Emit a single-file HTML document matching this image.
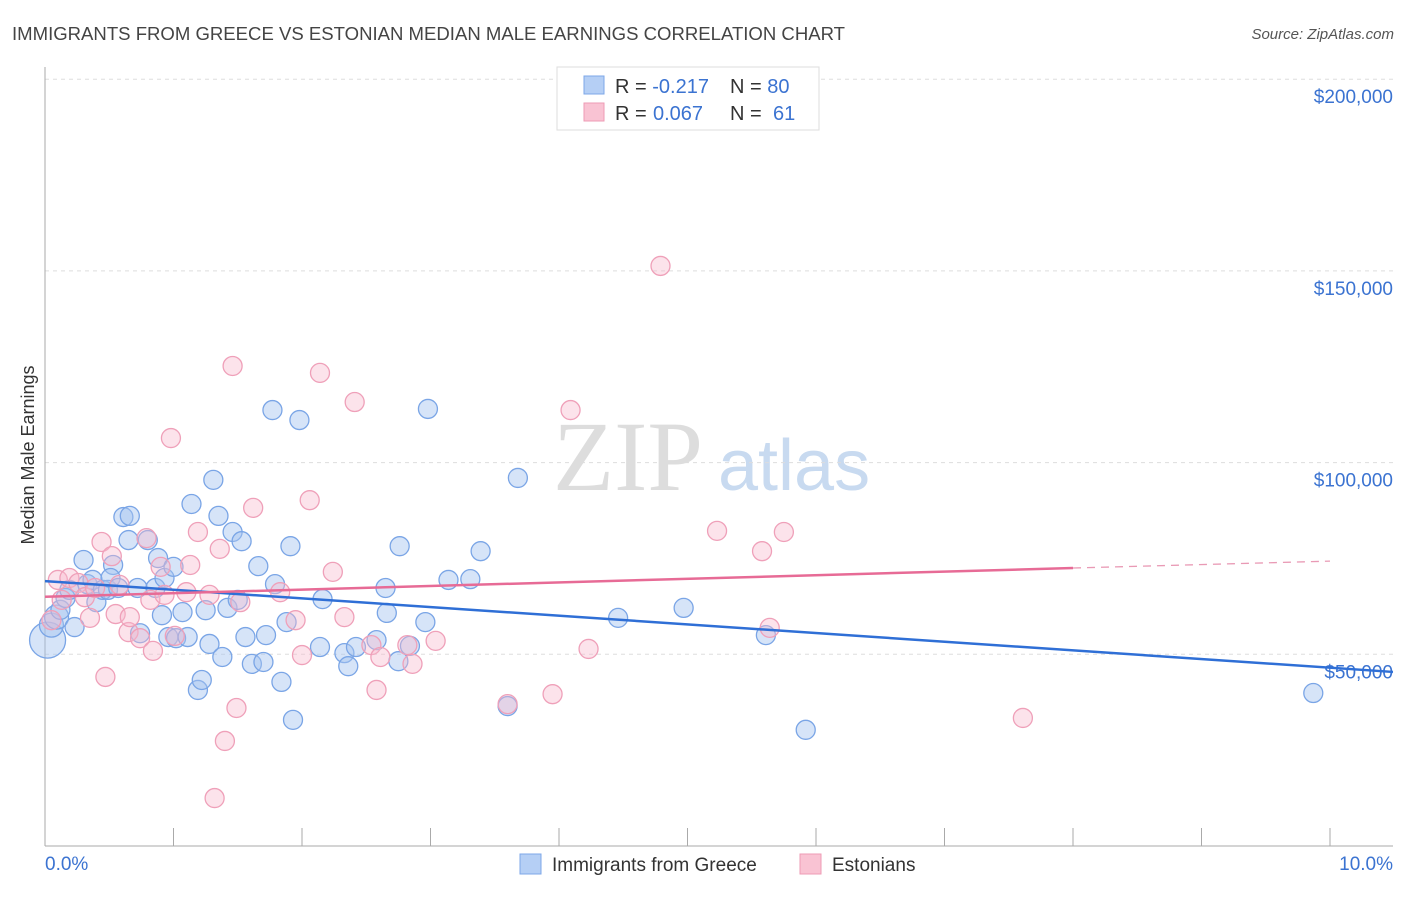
<!DOCTYPE html>
<html><head><meta charset="utf-8"><style>
body{margin:0;background:#fff;font-family:"Liberation Sans",sans-serif;}
svg text{font-family:"Liberation Sans",sans-serif;}
</style></head><body>
<svg id="chart" width="1406" height="892" viewBox="0 0 1406 892">
<text x="12" y="40" font-size="18" fill="#444" textLength="833" lengthAdjust="spacingAndGlyphs">IMMIGRANTS FROM GREECE VS ESTONIAN MEDIAN MALE EARNINGS CORRELATION CHART</text>
<text x="1394" y="39" font-size="15" fill="#555" text-anchor="end" font-style="italic">Source: ZipAtlas.com</text>
<g>
<text x="553" y="490" font-size="100" fill="#ddd" style="font-family:'Liberation Serif',serif">ZIP</text>
<text x="718" y="490" font-size="72" fill="#c8daf0">atlas</text>
</g>
<g id="grid"></g>
<g id="axes"></g>
<g id="pts"></g>
<g id="trend"></g>
<text transform="translate(34,455) rotate(-90)" font-size="18" fill="#333" text-anchor="middle">Median Male Earnings</text>
<g>
<rect x="557" y="67" width="262" height="63" fill="#fff" stroke="#ddd"/>
<rect x="584" y="76" width="20" height="18" fill="#b5cff5" stroke="#7da7e8"/>
<rect x="584" y="103" width="20" height="18" fill="#f9c3d3" stroke="#ee9bb5"/>
<text x="615" y="93" font-size="20" fill="#333">R = <tspan fill="#3b73d1">-0.217</tspan><tspan x="730">N = </tspan><tspan fill="#3b73d1">80</tspan></text>
<text x="615" y="120" font-size="20" fill="#333">R = <tspan fill="#3b73d1" x="653">0.067</tspan><tspan x="730">N = </tspan><tspan fill="#3b73d1" x="773">61</tspan></text>
</g>
<g>
<rect x="520" y="854" width="21" height="20" fill="#b5cff5" stroke="#7da7e8"/>
<text x="552" y="871" font-size="19" fill="#333">Immigrants from Greece</text>
<rect x="800" y="854" width="21" height="20" fill="#f9c3d3" stroke="#ee9bb5"/>
<text x="832" y="871" font-size="19" fill="#333">Estonians</text>
</g>
</svg>
<script>
const yTicks=[50000,100000,150000,200000];
const yTickLabels=["$50,000","$100,000","$150,000","$200,000"];
const xTicks=[0,1,2,3,4,5,6,7,8,9,10];
const xEndLabels=["0.0%","10.0%"];
const blueX=[0.02,0.05,0.09,0.12,0.16,0.19,0.23,0.30,0.33,0.37,0.40,0.45,0.49,0.53,0.51,0.57,0.61,0.65,0.66,0.74,0.72,0.80,0.86,0.88,0.91,0.93,0.96,1.00,1.02,1.07,1.11,1.14,1.19,1.22,1.25,1.28,1.31,1.35,1.38,1.42,1.46,1.50,1.53,1.56,1.61,1.66,1.70,1.72,1.77,1.79,1.84,1.88,1.91,1.93,1.98,2.14,2.16,2.33,2.36,2.42,2.58,2.65,2.66,2.75,2.76,2.84,2.96,2.98,3.14,3.31,3.39,3.60,3.68,4.46,4.97,5.61,5.92,9.87];
const blueY=[53.7,57.6,59.7,61.6,64.7,66.8,57.1,74.6,68.3,69.4,63.6,66.8,66.8,73.3,69.9,67.3,85.8,79.8,86.1,55.5,67.3,79.8,67.3,75.1,60.2,69.9,54.5,72.8,54.2,61.0,54.5,89.2,40.7,43.3,61.5,52.7,95.5,86.1,49.3,62.1,81.9,64.2,79.5,54.5,47.5,73.0,48.0,55.0,113.7,68.3,42.8,58.4,78.2,32.9,111.1,51.9,64.4,50.3,46.9,51.9,53.7,67.3,60.8,48.2,78.2,52.2,58.4,114.0,69.4,69.6,76.9,36.5,96.0,59.5,62.1,55.0,30.3,39.9];
const pinkX=[0.05,0.10,0.13,0.19,0.26,0.31,0.35,0.39,0.44,0.47,0.52,0.55,0.58,0.65,0.66,0.74,0.79,0.82,0.84,0.90,0.93,0.98,1.01,1.10,1.13,1.19,1.28,1.36,1.40,1.32,1.46,1.49,1.52,1.62,1.83,1.95,2.00,2.06,2.14,2.24,2.33,2.41,2.54,2.58,2.61,2.82,2.86,3.04,3.60,3.95,4.09,4.23,4.79,5.23,5.58,5.64,5.75,7.61];
const pinkY=[58.9,69.4,64.2,69.9,68.6,64.9,59.5,67.3,79.3,44.1,75.6,60.5,68.1,55.8,59.7,54.2,80.3,64.2,50.9,72.8,65.5,106.4,54.8,66.2,73.3,81.9,65.5,77.5,27.4,12.5,125.2,36.0,63.6,88.2,66.2,58.9,49.8,90.2,123.4,71.5,59.7,115.8,52.4,40.7,49.3,52.4,47.5,53.5,37.0,39.6,113.7,51.4,151.3,82.2,76.9,56.9,81.9,33.4];
const blueTrend=[69.1,45.4];
const pinkTrend=[65.0,72.5,74.3];
const NS="http://www.w3.org/2000/svg";
function sx(v){return 45+v*128.5;}
function sy(k){return 846-k*1000*191.7/50000;}
function mk(tag,attrs,parent){const e=document.createElementNS(NS,tag);for(const k in attrs)e.setAttribute(k,attrs[k]);parent.appendChild(e);return e;}
const grid=document.getElementById('grid'),axes=document.getElementById('axes'),pts=document.getElementById('pts'),trend=document.getElementById('trend');
yTicks.forEach((t,i)=>{
  const y=sy(t/1000);
  const l=mk('line',{x1:45,x2:1393,y1:y,y2:y,stroke:'#ddd','stroke-dasharray':'4,4'},grid);
  
  
  const tx=mk('text',{x:1393,y:y+24,'font-size':19,fill:'#3b73d1','text-anchor':'end'},grid);
  tx.textContent=yTickLabels[i];
  
  
});
const ya=mk('line',{x1:45,x2:45,y1:67,y2:846,stroke:'#aaa'},axes);


const xa=mk('line',{x1:45,x2:1393,y1:846,y2:846,stroke:'#aaa'},axes);


xTicks.forEach(t=>{
  const x=sx(t);
  const l=mk('line',{x1:x,x2:x,y1:828,y2:846,stroke:'#aaa'},axes);
  
  
});
const xl0=mk('text',{x:45,y:870,'font-size':19,fill:'#3b73d1'},axes);
xl0.textContent=xEndLabels[0];


const xl1=mk('text',{x:1393,y:870,'font-size':19,fill:'#3b73d1','text-anchor':'end'},axes);
xl1.textContent=xEndLabels[1];


blueX.forEach((x,i)=>{
  const r=i===0?18:(i<3?12:9.5);
  const c=mk('circle',{cx:sx(x),cy:sy(blueY[i]),r:r,fill:'rgba(165,195,240,0.45)',stroke:'#7aa5e6','stroke-width':1.3},pts);
  
  
});
pinkX.forEach((x,i)=>{
  const c=mk('circle',{cx:sx(x),cy:sy(pinkY[i]),r:9.5,fill:'rgba(248,185,205,0.4)',stroke:'#efa0b9','stroke-width':1.3},pts);
  
  
});
const bl=mk('line',{x1:sx(0),y1:sy(blueTrend[0]),x2:sx(10.49),y2:sy(blueTrend[1]),stroke:'#2f6fd6','stroke-width':2.5},trend);


const pl=mk('line',{x1:sx(0),y1:sy(pinkTrend[0]),x2:sx(8),y2:sy(pinkTrend[1]),stroke:'#e76b96','stroke-width':2.5},trend);


const pd=mk('line',{x1:sx(8),y1:sy(pinkTrend[1]),x2:sx(10),y2:sy(pinkTrend[2]),stroke:'#e99ab5','stroke-width':1.3,'stroke-dasharray':'8,6'},trend);


</script>
</body></html>
